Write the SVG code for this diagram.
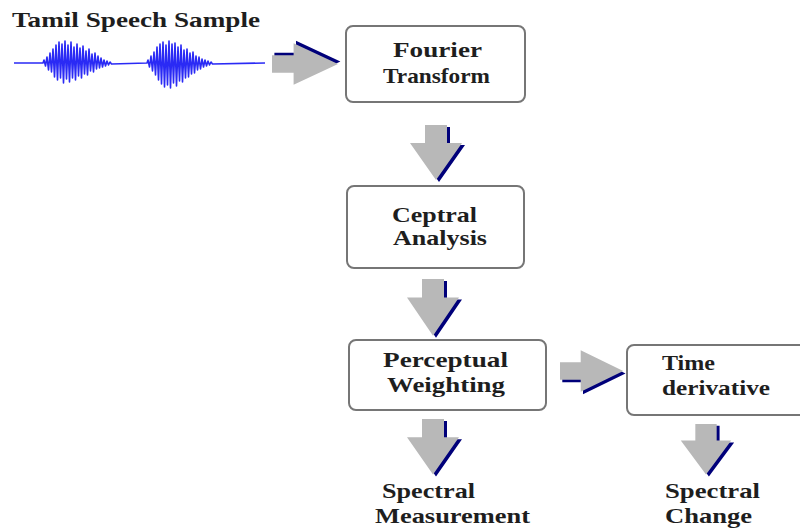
<svg xmlns="http://www.w3.org/2000/svg" width="800" height="528" viewBox="0 0 800 528">
  <style>
    .box { fill: #ffffff; stroke: #767676; stroke-width: 2; }
    .lbl { font-family: "Liberation Serif", "Times New Roman", serif; font-weight: bold; font-size: 21px; fill: #1e1e1e; }
    .wave { fill: none; stroke: #2a2af5; stroke-width: 1.6; stroke-linejoin: round; }
  </style>
  <defs>
    <!-- block arrow pointing down, origin at top centre of the shaft, navy shadow on the right -->
    <g id="blockArrow">
      <polygon points="-11,0 11,0 11,18 26,18 0,55 -26,18 -11,18" fill="#00007a" transform="translate(3,2)"/>
      <polygon points="-11,0 11,0 11,18 26,18 0,55 -26,18 -11,18" fill="#b8b8b8"/>
    </g>
  </defs>

  <rect width="800" height="528" fill="#ffffff"/>

  <!-- speech sample -->
  <g id="sample">
    <text class="lbl" x="12" y="27" textLength="248" lengthAdjust="spacingAndGlyphs">Tamil Speech Sample</text>
    <path class="wave" d="M14,63 L43,63 L44,60 L45.5,66 L47,57 L48.5,70 L50,53 L51.5,72 L53,49 L54.5,77 L56,45 L57.5,80 L59,42 L60.5,78 L62,44 L63.5,83 L65,41 L66.5,79 L68,45 L69.5,82 L71,42 L72.5,78 L74,47 L75.5,80 L77,44 L78.5,76 L80,48 L81.5,78 L83,46 L84.5,74 L86,51 L87.5,75 L89,49 L90.5,71 L92,54 L93.5,72 L95,53 L96.5,69 L98,56 L99.5,68 L101,58 L102.5,67 L104,60 L105.5,66 L107,61 L108.5,65 L110,62 L111.5,64 L147,63 L148,60 L149.5,67 L151,56 L152.5,71 L154,52 L155.5,75 L157,47 L158.5,80 L160,44 L161.5,84 L163,42 L164.5,87 L166,45 L167.5,85 L169,41 L170.5,88 L172,44 L173.5,83 L175,43 L176.5,86 L178,47 L179.5,81 L181,45 L182.5,82 L184,50 L185.5,78 L187,49 L188.5,77 L190,53 L191.5,74 L193,52 L194.5,73 L196,56 L197.5,70 L199,57 L200.5,69 L202,59 L203.5,67 L205,60 L206.5,66 L208,61 L209.5,65 L211,62 L212.5,64 L265,63"/>
  </g>

  <g id="fourier">
    <rect class="box" x="346" y="26" width="179" height="76" rx="7"/>
    <text class="lbl" x="393" y="57" textLength="89" lengthAdjust="spacingAndGlyphs">Fourier</text>
    <text class="lbl" x="383" y="83" textLength="107" lengthAdjust="spacingAndGlyphs">Transform</text>
  </g>

  <g id="ceptral">
    <rect class="box" x="347" y="186" width="177" height="82" rx="7"/>
    <text class="lbl" x="392" y="222" textLength="85" lengthAdjust="spacingAndGlyphs">Ceptral</text>
    <text class="lbl" x="393" y="245" textLength="94" lengthAdjust="spacingAndGlyphs">Analysis</text>
  </g>

  <g id="perceptual">
    <rect class="box" x="349" y="340" width="197" height="70" rx="7"/>
    <text class="lbl" x="383" y="367" textLength="125" lengthAdjust="spacingAndGlyphs">Perceptual</text>
    <text class="lbl" x="387" y="392" textLength="118" lengthAdjust="spacingAndGlyphs">Weighting</text>
  </g>

  <g id="timeDerivative">
    <rect class="box" x="627" y="345" width="190" height="70" rx="7"/>
    <text class="lbl" x="662" y="370" textLength="53" lengthAdjust="spacingAndGlyphs">Time</text>
    <text class="lbl" x="662" y="395" textLength="108" lengthAdjust="spacingAndGlyphs">derivative</text>
  </g>

  <g id="spectralMeasurement">
    <text class="lbl" x="382" y="498" textLength="93" lengthAdjust="spacingAndGlyphs">Spectral</text>
    <text class="lbl" x="375" y="523" textLength="155" lengthAdjust="spacingAndGlyphs">Measurement</text>
  </g>

  <g id="spectralChange">
    <text class="lbl" x="665" y="498" textLength="95" lengthAdjust="spacingAndGlyphs">Spectral</text>
    <text class="lbl" x="665" y="523" textLength="87" lengthAdjust="spacingAndGlyphs">Change</text>
  </g>

  <!-- connectors -->
  <g id="connectors">
    <use href="#blockArrow" transform="translate(272,64) rotate(-90) scale(0.8,1.2)"/>
    <use href="#blockArrow" transform="translate(436,125)"/>
    <use href="#blockArrow" transform="translate(433,279) scale(1,1.03)"/>
    <use href="#blockArrow" transform="translate(433,419) scale(1,1.01)"/>
    <use href="#blockArrow" transform="translate(560,371) matrix(0,1,1,0,0,0) scale(0.8,1.15)"/>
    <use href="#blockArrow" transform="translate(706,424) scale(0.97,0.92)"/>
  </g>
</svg>
